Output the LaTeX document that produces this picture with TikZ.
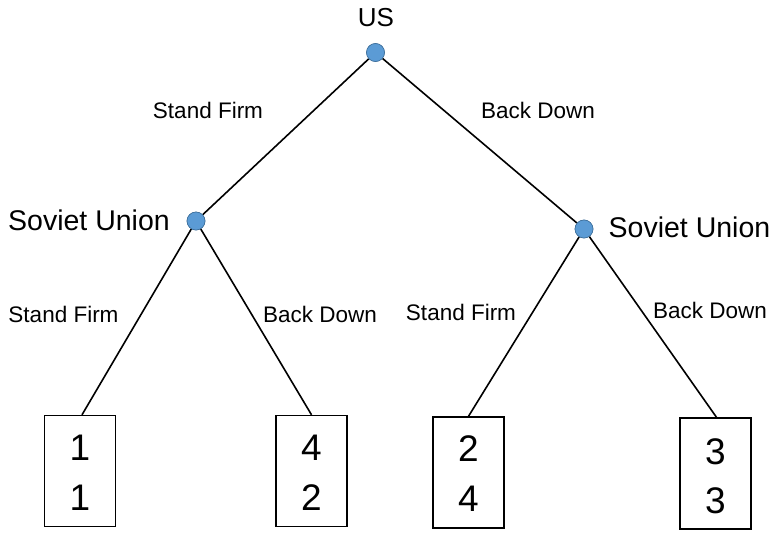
\documentclass[tikz,border=0pt]{standalone}
\usepackage{fontspec}
\setmainfont{Liberation Sans}
\definecolor{nodeblue}{HTML}{5B9BD5}
\definecolor{nodeedge}{HTML}{41719C}
\begin{document}
\begin{tikzpicture}[x=1pt,y=-1pt,
  player/.style={circle,fill=nodeblue,draw=nodeedge,line width=0.6pt,minimum size=18pt,inner sep=0pt},
  pname/.style={inner sep=0pt,font=\fontsize{28.5}{30}\selectfont},
  mlabel/.style={inner sep=0pt,font=\fontsize{22.5}{26}\selectfont},
  payoff/.style={draw,line width=1.4pt,minimum width=71pt,minimum height=111pt,inner sep=0pt},
  digit/.style={inner sep=0pt,font=\fontsize{37}{40}\selectfont},
  edge/.style={line width=1.6pt}]
\useasboundingbox (0,0) rectangle (780,544);
\fill[white] (0,0) rectangle (780,544);
% payoff boxes
\node[payoff] (b1) at (80,471) {};
\node[payoff] (b2) at (311.5,471) {};
\node[payoff] (b3) at (468.5,472.5) {};
\node[payoff] (b4) at (715.5,473.5) {};
% decision nodes
\node[player] (us) at (375.5,52.5) {};
\node[player] (sul) at (196,221) {};
\node[player] (sur) at (584,229) {};
% edges
\draw[edge] (us) -- (sul);
\draw[edge] (us) -- (sur);
\draw[edge] (sul) -- ([xshift=2pt]b1.north);
\draw[edge] (sul) -- (b2.north);
\draw[edge] (sur) -- (b3.north);
\draw[edge] (sur) -- ([xshift=1pt]b4.north);
% redraw nodes on top
\node[player] at (us) {};
\node[player] at (sul) {};
\node[player] at (sur) {};
% player names
\node[pname,font=\fontsize{26}{30}\selectfont] (tus) at (376,18) {US};
\node[pname] (tsul) at (89,220) {Soviet Union};
\node[pname] (tsur) at (689.5,227) {Soviet Union};
% move labels
\node[mlabel] (m1) at (208,110) {Stand Firm};
\node[mlabel] (m2) at (538,110) {Back Down};
\node[mlabel] (m3) at (63.5,314) {Stand Firm};
\node[mlabel] (m4) at (320,314) {Back Down};
\node[mlabel] (m5) at (461,312) {Stand Firm};
\node[mlabel] (m6) at (710,310) {Back Down};
% payoffs
\node[digit] (d1a) at (80,447.5) {1};
\node[digit] (d1b) at (80,497.5) {1};
\node[digit] (d2a) at (311.5,447.5) {4};
\node[digit] (d2b) at (311.5,497.5) {2};
\node[digit] (d3a) at (468.5,449) {2};
\node[digit] (d3b) at (468.5,499) {4};
\node[digit] (d4a) at (715.5,452) {3};
\node[digit] (d4b) at (715.5,500.5) {3};
\end{tikzpicture}
\end{document}
